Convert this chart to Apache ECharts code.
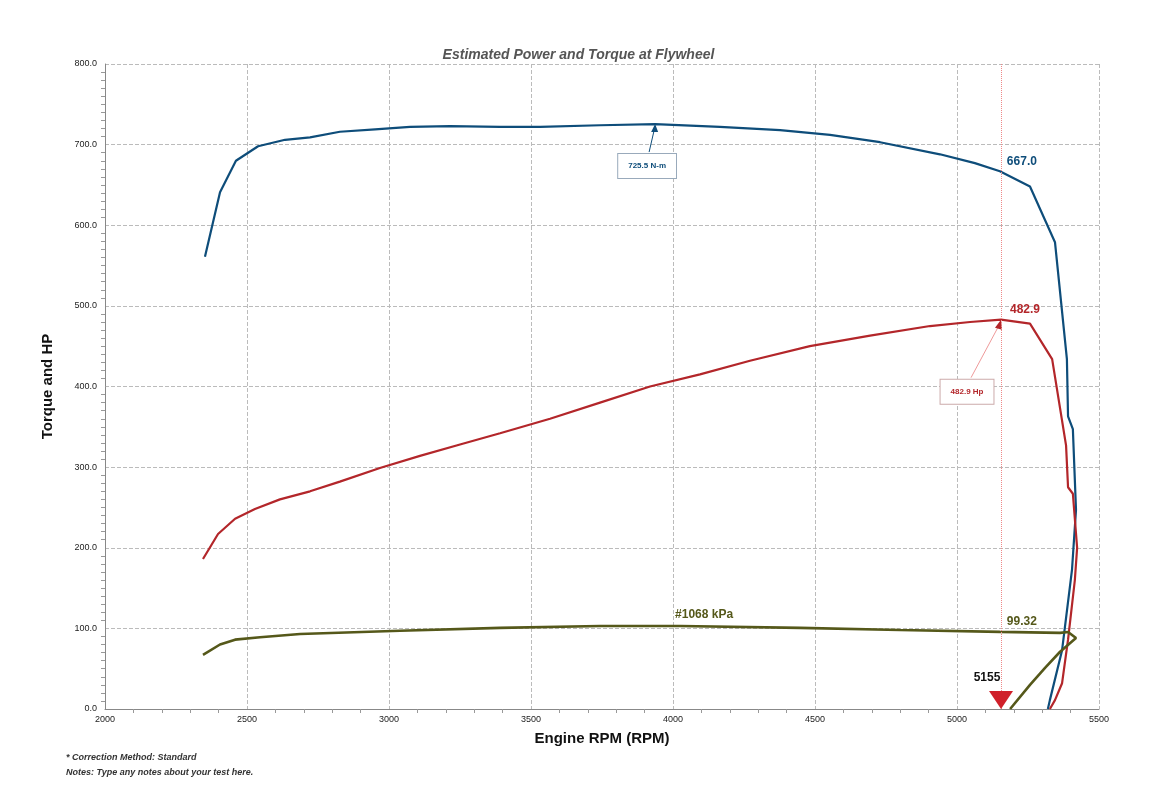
<!DOCTYPE html>
<html>
<head>
<meta charset="utf-8">
<script src="https://cdn.jsdelivr.net/npm/echarts@6/dist/echarts.min.js"></script>
<style>html,body{margin:0;background:#fff}#c{width:1157px;height:789px}</style>
</head>
<body>
<div id="c"></div>
<script>
const torque = [[2352,561],[2405,641],[2461,680],[2539,698],[2634,706],[2722,709],[2827,716],[2951,719],[3074,722],[3215,723],[3391,722],[3532,722],[3743,724],[3937,725.5],[4165,722],[4377,718],[4553,712],[4729,703],[4940,688],[5063,677],[5151,667],[5257,648],[5345,579],[5387,434],[5391,363],[5408,347],[5419,247],[5405,173],[5370,73],[5327,11],[5320,0]];
const power = [[2345,186],[2398,217],[2458,236],[2528,248],[2616,260],[2722,270],[2827,282],[2968,299],[3109,314],[3250,328],[3391,342],[3567,360],[3743,380],[3919,400],[4095,415],[4271,432],[4482,450],[4694,463],[4905,475],[5046,480],[5155,482.9],[5257,478],[5335,434],[5384,327],[5391,275],[5408,267],[5423,200],[5415,160],[5391,86],[5370,32],[5345,11],[5327,0]];
const boost = [[2345,67],[2405,80],[2458,86],[2546,89],[2687,93],[3039,97],[3391,100.6],[3743,103],[4025,103],[4447,100.6],[4799,98],[5151,95.6],[5363,94.4],[5391,95.6],[5419,88],[5363,71],[5310,51],[5257,30],[5187,0]];
const peakRpm = 5155;

const chart = echarts.init(document.getElementById('c'));
const font = 'Liberation Sans, Arial, sans-serif';
const notes = [
  {type: 'text', left: 66, top: 753, style: {text: '* Correction Method: Standard', font: 'italic bold 9px ' + font, fill: '#333'}},
  {type: 'text', left: 66, top: 768, style: {text: 'Notes: Type any notes about your test here.', font: 'italic bold 9px ' + font, fill: '#333'}}
];
chart.setOption({
  animation: false,
  title: {text: 'Estimated Power and Torque at Flywheel', left: 'center', top: 43,
    textStyle: {fontFamily: font, fontSize: 14, fontStyle: 'italic', fontWeight: 'bold', color: '#555'}},
  grid: {left: 105, right: 58, top: 64, bottom: 80},
  xAxis: {type: 'value', min: 2000, max: 5500, interval: 500,
    name: 'Engine RPM (RPM)', nameLocation: 'middle', nameGap: 22,
    nameTextStyle: {fontFamily: font, fontSize: 15, fontWeight: 'bold', color: '#111'},
    axisLine: {lineStyle: {color: '#888'}}, axisTick: {show: false},
    minorTick: {show: true, splitNumber: 5, length: 4, lineStyle: {color: '#999'}},
    axisLabel: {fontFamily: font, fontSize: 9, color: '#222', margin: 6, formatter: v => String(v)},
    splitLine: {lineStyle: {type: 'dashed', color: '#bbb'}}},
  yAxis: {type: 'value', min: 0, max: 800, interval: 100,
    name: 'Torque and HP', nameLocation: 'middle', nameGap: 50,
    nameTextStyle: {fontFamily: font, fontSize: 15, fontWeight: 'bold', color: '#111'},
    axisLine: {show: true, lineStyle: {color: '#888'}}, axisTick: {show: false},
    minorTick: {show: true, splitNumber: 10, length: 4, lineStyle: {color: '#999'}},
    axisLabel: {fontFamily: font, fontSize: 9, color: '#222', formatter: v => v.toFixed(1)},
    splitLine: {lineStyle: {type: 'dashed', color: '#bbb'}}},
  series: [
    {type: 'line', data: torque, symbol: 'none', lineStyle: {color: '#0e4d7a', width: 2.2},
      markPoint: {symbol: 'circle', symbolSize: 0, data: [
        {coord: [5151, 667], label: {show: true, formatter: '667.0', color: '#0e4d7a', fontFamily: font, fontSize: 12, fontWeight: 'bold', offset: [22, -10]}},
        {coord: [3937, 725.5], label: {show: true, formatter: '725.5 N-m', color: '#0e4d7a', fontFamily: font, fontSize: 8, fontWeight: 'bold',
          backgroundColor: '#fff', borderColor: '#9ab', borderWidth: 1, padding: [8, 10], offset: [-8, 42]}}
      ]}},
    {type: 'line', data: power, symbol: 'none', lineStyle: {color: '#b3262a', width: 2.2},
      markPoint: {symbol: 'circle', symbolSize: 0, data: [
        {coord: [5155, 482.9], label: {show: true, formatter: '482.9', color: '#b3262a', fontFamily: font, fontSize: 12, fontWeight: 'bold', offset: [24, -10]}},
        {coord: [5155, 482.9], label: {show: true, formatter: '482.9 Hp', color: '#b3262a', fontFamily: font, fontSize: 8, fontWeight: 'bold',
          backgroundColor: '#fff', borderColor: '#caa', borderWidth: 1, padding: [8, 10], offset: [-34, 72]}}
      ]},
      markLine: {silent: true, symbol: 'none', label: {show: false},
        lineStyle: {color: '#e88', type: 'dotted', width: 1}, data: [{xAxis: peakRpm}]}},
    {type: 'line', data: boost, symbol: 'none', lineStyle: {color: '#55581a', width: 2.6},
      markPoint: {symbol: 'circle', symbolSize: 0, data: [
        {coord: [5151, 95.6], label: {show: true, formatter: '99.32', color: '#55581a', fontFamily: font, fontSize: 12, fontWeight: 'bold', offset: [22, -10]}},
        {coord: [4025, 103], label: {show: true, formatter: '#1068 kPa', color: '#55581a', fontFamily: font, fontSize: 12, fontWeight: 'bold', offset: [24, -11]}},
        {coord: [peakRpm, 0], symbol: 'triangle', symbolRotate: 180, symbolSize: [24, 18], symbolOffset: [0, -9], itemStyle: {color: '#d0202a'},
          label: {show: true, formatter: '5155', color: '#111', fontFamily: font, fontSize: 12, fontWeight: 'bold', offset: [-14, -22]}}
      ]}}
  ],
  graphic: notes
});

// pointer arrows from the note boxes to the peaks
const p1 = chart.convertToPixel('grid', [3937, 725.5]);
const p2 = chart.convertToPixel('grid', [5155, 482.9]);
chart.setOption({graphic: notes.concat([
  {type: 'line', shape: {x1: p1[0] - 6, y1: p1[1] + 28, x2: p1[0], y2: p1[1] + 2}, style: {stroke: '#0e4d7a', lineWidth: 1}},
  {type: 'polygon', shape: {points: [[p1[0], p1[1]], [p1[0] - 4, p1[1] + 8], [p1[0] + 3, p1[1] + 8]]}, style: {fill: '#0e4d7a'}},
  {type: 'line', shape: {x1: p2[0] - 30, y1: p2[1] + 58, x2: p2[0], y2: p2[1] + 2}, style: {stroke: '#e99', lineWidth: 1}},
  {type: 'polygon', shape: {points: [[p2[0], p2[1]], [p2[0] - 6, p2[1] + 8], [p2[0] + 1, p2[1] + 10]]}, style: {fill: '#b3262a'}}
])}, {replaceMerge: ['graphic']});
</script>
</body>
</html>
